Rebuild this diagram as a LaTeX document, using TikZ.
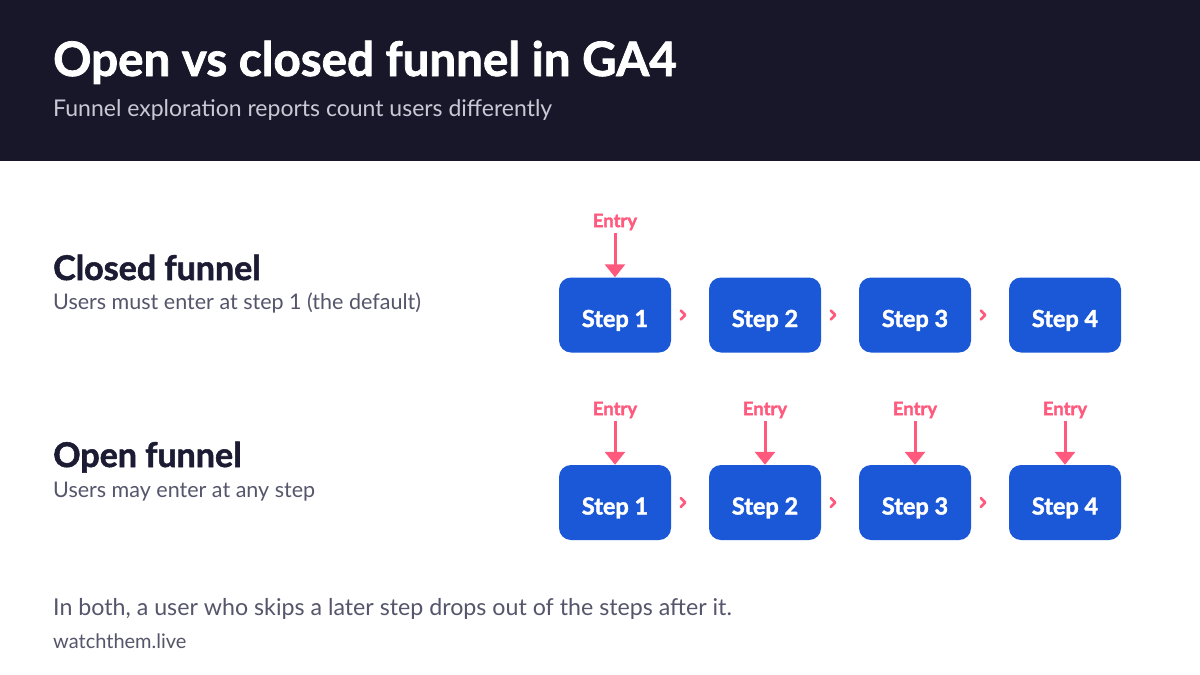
\documentclass[tikz,border=0pt]{standalone}
\usepackage{fontspec}
\setmainfont{Lato}[BoldFeatures={FakeBold=1.6}]
\usetikzlibrary{arrows.meta,calc}
\definecolor{hdr}{HTML}{171729}
\definecolor{stepblue}{HTML}{1A58D8}
\definecolor{pink}{HTML}{FF5A7D}
\definecolor{darktxt}{HTML}{1B1B33}
\definecolor{graytxt}{HTML}{55556B}
\definecolor{subtxt}{HTML}{C9C9D6}
\tikzset{
  stepbox/.style={fill=stepblue, rounded corners=12pt, minimum width=112pt, minimum height=75pt, inner sep=0pt, text=white, font=\fontsize{23.5}{26}\selectfont\bfseries},
  entrylbl/.style={text=pink, font=\fontsize{18.5}{20}\selectfont\bfseries, inner sep=0pt},
  entryarrow/.style={draw=pink, line width=3pt, -{Triangle[width=20pt,length=13pt]}},
  chev/.style={draw=pink, line width=2.6pt, line cap=round, line join=round},
  txt/.style={anchor=base west, inner sep=0pt},
}
\begin{document}
\begin{tikzpicture}[x=1pt,y=-1pt]
\useasboundingbox (0,0) rectangle (1200,675);
\fill[white] (0,0) rectangle (1200,675);
\fill[hdr] (0,0) rectangle (1200,161);
\node[txt, text=white, font=\fontsize{47.5}{52}\selectfont\bfseries] (title) at (53,76) {Open vs closed funnel in GA4};
\node[txt, text=subtxt, font=\fontsize{23}{27}\selectfont] (sub) at (53,116) {Funnel exploration reports count users differently};

\node[txt, text=darktxt, font=\fontsize{34}{38}\selectfont\bfseries] (closedh) at (53,280) {Closed funnel};
\node[txt, text=graytxt, font=\fontsize{21.5}{24}\selectfont] (closedd) at (53,309) {Users must enter at step 1 (the default)};
\node[txt, text=darktxt, font=\fontsize{34}{38}\selectfont\bfseries] (openh) at (53,467) {Open funnel};
\node[txt, text=graytxt, font=\fontsize{21.5}{24}\selectfont] (opend) at (53,497) {Users may enter at any step};

\foreach \i/\x in {1/615,2/765,3/915,4/1065}{
  \node[stepbox] (c\i) at (\x,315) {\raisebox{-12pt}[0pt][0pt]{Step \i}};
  \node[stepbox] (o\i) at (\x,502.5) {\raisebox{-12pt}[0pt][0pt]{Step \i}};
  \node[entrylbl] (oe\i) at (\x,410) {Entry};
  \draw[entryarrow] ([yshift=-3pt]oe\i.south) -- (o\i.north);
}
\node[entrylbl] (ce1) at (615,222) {Entry};
\draw[entryarrow] ([yshift=-3pt]ce1.south) -- (c1.north);

\foreach \a/\b in {1/2,2/3,3/4}{
  \coordinate (cc\a) at ($(c\a.east)!0.32!(c\b.west)$);
  \coordinate (oc\a) at ($(o\a.east)!0.32!(o\b.west)$);
  \draw[chev] ([shift={(-2.5,-4.5)}]cc\a) -- ([shift={(2,0)}]cc\a) -- ([shift={(-2.5,4.5)}]cc\a);
  \draw[chev] ([shift={(-2.5,-4.5)}]oc\a) -- ([shift={(2,0)}]oc\a) -- ([shift={(-2.5,4.5)}]oc\a);
}

\node[txt, text=graytxt, font=\fontsize{23.2}{26}\selectfont] (foot) at (53,615) {In both, a user who skips a later step drops out of the steps after it.};
\node[txt, text=graytxt, font=\fontsize{20}{23}\selectfont] (site) at (53,648) {watchthem.live};
\end{tikzpicture}
\end{document}
